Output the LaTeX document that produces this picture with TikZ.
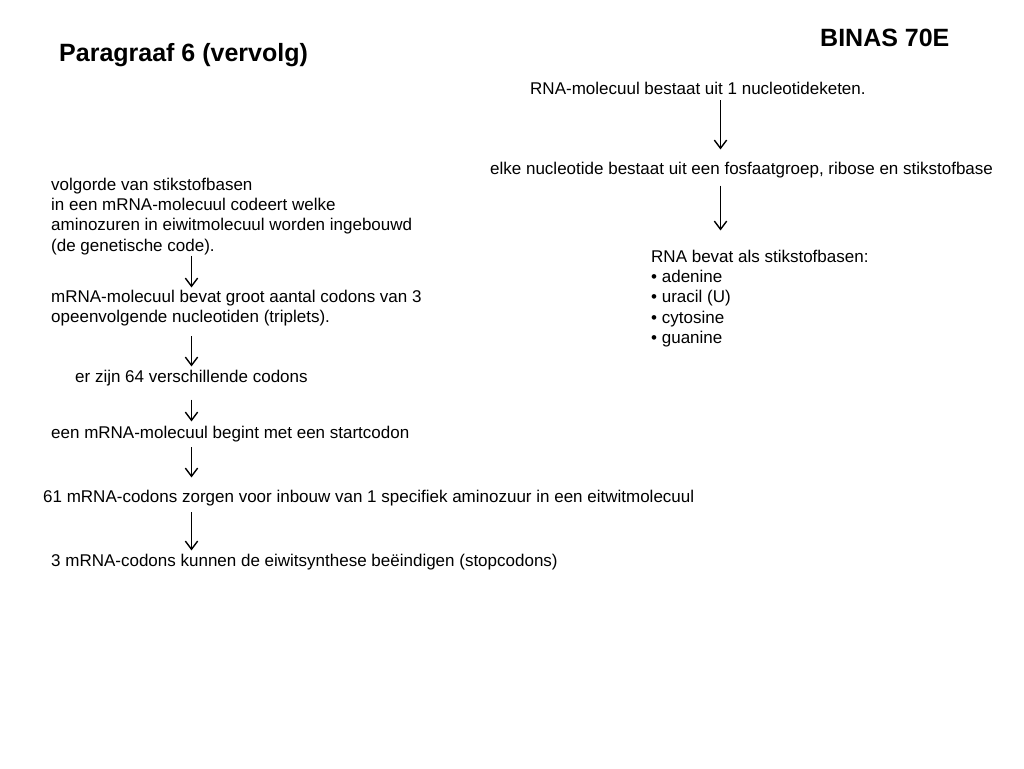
\documentclass[tikz,border=0pt]{standalone}
\usepackage{fontspec}
\setmainfont{Liberation Sans}
\usetikzlibrary{arrows.meta}
\begin{document}
\begin{tikzpicture}[x=1pt,y=-1pt,
  txt/.style={anchor=base west,inner sep=0pt,align=left,font=\fontsize{17}{20.4}\selectfont},
  ttl/.style={anchor=base west,inner sep=0pt,font=\fontsize{25}{30}\selectfont\bfseries},
  arr/.style={line width=1.4pt,-{Straight Barb[length=8pt,width=12pt,line cap=round]}}]
\useasboundingbox (0,0) rectangle (1024,768);
\node[ttl] (title) at (59,62) {Paragraaf 6 (vervolg)};
\node[ttl] (binas) at (820,47) {BINAS 70E};
\node[txt] (r1) at (530,94) {RNA-molecuul bestaat uit 1 nucleotideketen.};
\node[txt] (r2) at (490,174) {elke nucleotide bestaat uit een fosfaatgroep, ribose en stikstofbase};
\node[txt] (r3) at (651,343.6) {RNA bevat als stikstofbasen:\\• adenine\\• uracil (U)\\• cytosine\\• guanine};
\node[txt] (l1) at (51,251.2) {volgorde van stikstofbasen\\in een mRNA-molecuul codeert welke\\aminozuren in eiwitmolecuul worden ingebouwd\\(de genetische code).};
\node[txt] (l2) at (51,322.4) {mRNA-molecuul bevat groot aantal codons van 3\\opeenvolgende nucleotiden (triplets).};
\node[txt] (l3) at (75,382) {er zijn 64 verschillende codons};
\node[txt] (l4) at (51,438) {een mRNA-molecuul begint met een startcodon};
\node[txt] (l5) at (43,502) {61 mRNA-codons zorgen voor inbouw van 1 specifiek aminozuur in een eitwitmolecuul};
\node[txt] (l6) at (51,566) {3 mRNA-codons kunnen de eiwitsynthese beëindigen (stopcodons)};
\coordinate (rx) at (720.5,0);
\coordinate (lx) at (191.5,0);
\draw[arr] ([yshift=-6pt]r1.south -| rx) -- ([yshift=12pt]r2.north -| rx);
\draw[arr] ([yshift=-8pt]r2.south -| rx) -- ([yshift=19pt]r3.north -| rx);
\draw[arr] ([yshift=-1pt]l1.south -| lx) -- ([yshift=2pt]l2.north -| lx);
\draw[arr] ([yshift=-10pt]l2.south -| lx) -- ([yshift=3pt]l3.north -| lx);
\draw[arr] ([yshift=-14pt]l3.south -| lx) -- ([yshift=4pt]l4.north -| lx);
\draw[arr] ([yshift=-5.5pt]l4.south -| lx) -- ([yshift=12pt]l5.north -| lx);
\draw[arr] ([yshift=-6.5pt]l5.south -| lx) -- ([yshift=3pt]l6.north -| lx);
\end{tikzpicture}
\end{document}
